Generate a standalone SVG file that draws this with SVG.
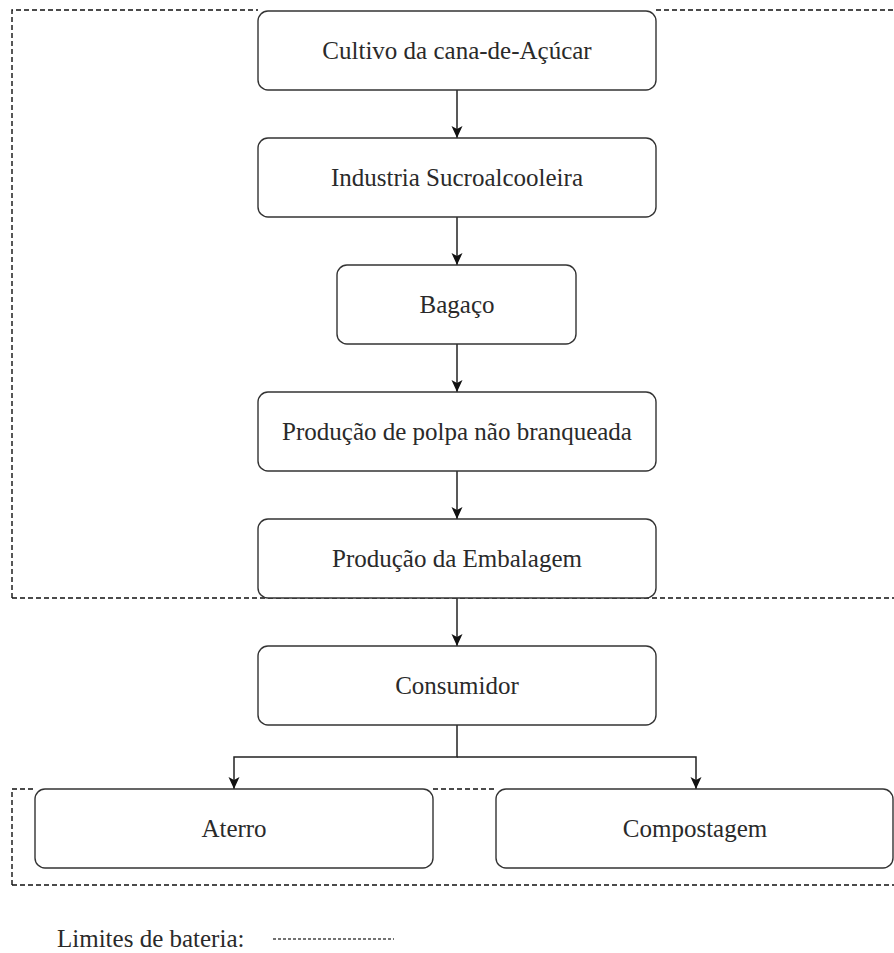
<svg xmlns="http://www.w3.org/2000/svg" width="894" height="953" viewBox="0 0 894 953">
<defs>
<style>
.box{fill:#fff;stroke:#333;stroke-width:1.4}
.lbl{font-family:"Liberation Serif","Times New Roman",serif;font-size:25px;fill:#2a2a2a;text-anchor:middle}
.lim{fill:none;stroke:#111;stroke-width:1.4;stroke-dasharray:5 3}
.con{fill:none;stroke:#222;stroke-width:1.5}
</style>
<marker id="arr" viewBox="0 0 12 12" refX="12" refY="6" markerWidth="12" markerHeight="12" markerUnits="userSpaceOnUse" orient="auto">
<path d="M0,0.5 L12,6 L0,11.5 L3,6 z" fill="#111"/>
</marker>
</defs>
<rect width="894" height="953" fill="#fff"/>
<g id="limits">
<path class="lim" d="M12,598 L12,10 L258,10 M656,10 L896,10 M12,598 L896,598"/>
<path class="lim" d="M12,885 L12,789 L35,789 M433,789 L496,789 M12,885 L896,885"/>
</g>
<g id="connectors">
<path class="con" d="M457,90 L457,138" marker-end="url(#arr)"/>
<path class="con" d="M457,217 L457,265" marker-end="url(#arr)"/>
<path class="con" d="M457,344 L457,392" marker-end="url(#arr)"/>
<path class="con" d="M457,471 L457,519" marker-end="url(#arr)"/>
<path class="con" d="M457,598 L457,646" marker-end="url(#arr)"/>
<path class="con" d="M457,725 L457,757 L234,757 L234,789" marker-end="url(#arr)"/>
<path class="con" d="M457,757 L696,757 L696,789" marker-end="url(#arr)"/>
</g>
<g id="n1"><rect class="box" x="258" y="11" width="398" height="79" rx="10"/><text class="lbl" x="457" y="59">Cultivo da cana-de-Açúcar</text></g>
<g id="n2"><rect class="box" x="258" y="138" width="398" height="79" rx="10"/><text class="lbl" x="457" y="186">Industria Sucroalcooleira</text></g>
<g id="n3"><rect class="box" x="337" y="265" width="239" height="79" rx="10"/><text class="lbl" x="457" y="313">Bagaço</text></g>
<g id="n4"><rect class="box" x="258" y="392" width="398" height="79" rx="10"/><text class="lbl" x="457" y="440">Produção de polpa não branqueada</text></g>
<g id="n5"><rect class="box" x="258" y="519" width="398" height="79" rx="10"/><text class="lbl" x="457" y="567">Produção da Embalagem</text></g>
<g id="n6"><rect class="box" x="258" y="646" width="398" height="79" rx="10"/><text class="lbl" x="457" y="694">Consumidor</text></g>
<g id="n7"><rect class="box" x="35" y="789" width="398" height="79" rx="10"/><text class="lbl" x="234" y="837">Aterro</text></g>
<g id="n8"><rect class="box" x="496" y="789" width="397" height="79" rx="10"/><text class="lbl" x="695" y="837">Compostagem</text></g>
<g id="legend">
<text x="57" y="947" style="font-family:'Liberation Serif','Times New Roman',serif;font-size:25px;fill:#2a2a2a">Limites de bateria:</text>
<path d="M273,939 L394,939" fill="none" stroke="#444" stroke-width="1.3" stroke-dasharray="3 2"/>
</g>
</svg>
